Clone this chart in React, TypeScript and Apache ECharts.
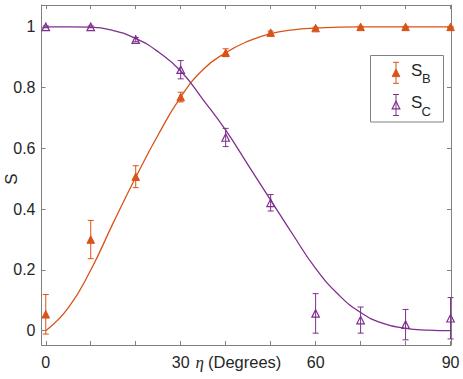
import React, { useEffect, useRef } from "react";
import * as echarts from "echarts";

const angles = [0, 10, 20, 30, 40, 50, 60, 70, 80, 90];
const sbValues = [0.054, 0.3, 0.507, 0.769, 0.915, 0.981, 0.996, 1.0, 1.0, 1.0];
const sbErrors = [0.065, 0.063, 0.036, 0.016, 0.013, 0.005, 0.003, 0.002, 0.002, 0.002];
const scValues = [1.0, 1.0, 0.958, 0.859, 0.636, 0.421, 0.057, 0.035, 0.02, 0.041];
const scErrors = [0.003, 0.003, 0.007, 0.03, 0.03, 0.027, 0.065, 0.043, 0.05, 0.068];

const fitAngles = [0, 5, 10, 15, 20, 25, 30, 35, 40, 45, 50, 55, 60, 65, 70, 75, 80, 85, 90];
const sbFit = [0, 0.075, 0.2, 0.355, 0.505, 0.645, 0.769, 0.86, 0.915, 0.953, 0.978, 0.99, 0.996, 0.999, 1, 1, 1, 1, 1];
const scFit = [1, 1, 0.999, 0.988, 0.962, 0.918, 0.855, 0.76, 0.66, 0.545, 0.43, 0.315, 0.205, 0.12, 0.06, 0.024, 0.008, 0.002, 0];

const xTicks = [0, 10, 20, 30, 40, 50, 60, 70, 80, 90];
const xTickLabels = [0, 30, 60, 90];
const yTicks = [0, 0.2, 0.4, 0.6, 0.8, 1];

const ORANGE = "#D95319";
const PURPLE = "#7E2F8E";
const AXIS = "#808080";
const TEXT = "#262626";
const FONT = "'Liberation Sans', Arial, Helvetica, sans-serif";

function errorBarSeries(values: number[], errors: number[], color: string) {
  return {
    type: "custom",
    clip: false,
    encode: { x: 0, y: [1, 2, 3] },
    data: angles.map((a, i) => [a, values[i], values[i] - errors[i], values[i] + errors[i]]),
    renderItem: (params: any, api: any) => {
      const x = api.value(0);
      const top = api.coord([x, api.value(3)]);
      const bot = api.coord([x, api.value(2)]);
      const w = 3;
      const style = { stroke: color, lineWidth: 1, fill: "none" };
      return {
        type: "group",
        children: [
          { type: "line", shape: { x1: top[0], y1: top[1], x2: bot[0], y2: bot[1] }, style },
          { type: "line", shape: { x1: top[0] - w, y1: top[1], x2: top[0] + w, y2: top[1] }, style },
          { type: "line", shape: { x1: bot[0] - w, y1: bot[1], x2: bot[0] + w, y2: bot[1] }, style },
        ],
      };
    },
    z: 3,
  };
}

function legendIcon(cx: number, cy: number, color: string, filled: boolean) {
  const style = { stroke: color, lineWidth: 1, fill: "none" };
  const h = 10.5;
  const w = 3;
  const t = 3.8;
  return [
    { type: "line", shape: { x1: cx, y1: cy - h, x2: cx, y2: cy + h }, style },
    { type: "line", shape: { x1: cx - w, y1: cy - h, x2: cx + w, y2: cy - h }, style },
    { type: "line", shape: { x1: cx - w, y1: cy + h, x2: cx + w, y2: cy + h }, style },
    {
      type: "polygon",
      shape: { points: [[cx, cy - t], [cx + t, cy + t], [cx - t, cy + t]] },
      style: filled ? { fill: color, stroke: color, lineWidth: 1 } : { fill: "none", stroke: color, lineWidth: 1.2 },
    },
  ];
}

export default function App() {
  const ref = useRef<HTMLDivElement>(null);
  useEffect(() => {
    if (!ref.current) return;
    const chart = echarts.init(ref.current, undefined, { renderer: "svg" });
    const axisCommon = {
      type: "value",
      axisLine: { show: true, onZero: false, lineStyle: { color: AXIS, width: 1 } },
      splitLine: { show: false },
    };
    chart.setOption({
      animation: false,
      backgroundColor: "#ffffff",
      grid: { left: 41.5, right: 12, top: 5, bottom: 34, containLabel: false },
      xAxis: [
        {
          ...axisCommon,
          position: "bottom",
          min: -0.95,
          max: 90.1,
          axisTick: { show: true, inside: true, length: 4, customValues: xTicks, lineStyle: { color: AXIS } },
          axisLabel: {
            show: true,
            customValues: xTickLabels,
            margin: 9,
            color: TEXT,
            fontSize: 16,
            fontFamily: FONT,
            formatter: (v: number) => String(v),
          },
        },
        {
          ...axisCommon,
          position: "top",
          min: -0.95,
          max: 90.1,
          axisTick: { show: true, inside: true, length: 4, customValues: xTicks, lineStyle: { color: AXIS } },
          axisLabel: { show: false },
        },
      ],
      yAxis: [
        {
          ...axisCommon,
          position: "left",
          min: -0.047,
          max: 1.072,
          axisTick: { show: true, inside: true, length: 4, customValues: yTicks, lineStyle: { color: AXIS } },
          axisLabel: {
            show: true,
            customValues: yTicks,
            margin: 6,
            color: TEXT,
            fontSize: 16,
            fontFamily: FONT,
            formatter: (v: number) => String(v),
          },
        },
        {
          ...axisCommon,
          position: "right",
          min: -0.047,
          max: 1.072,
          axisTick: { show: true, inside: true, length: 4, customValues: yTicks, lineStyle: { color: AXIS } },
          axisLabel: { show: false },
        },
      ],
      series: [
        {
          name: "SB fit",
          type: "line",
          data: fitAngles.map((a, i) => [a, sbFit[i]]),
          smooth: 0.5,
          showSymbol: false,
          lineStyle: { color: ORANGE, width: 1.3 },
          z: 2,
        },
        {
          name: "SC fit",
          type: "line",
          data: fitAngles.map((a, i) => [a, scFit[i]]),
          smooth: 0.5,
          showSymbol: false,
          lineStyle: { color: PURPLE, width: 1.3 },
          z: 2,
        },
        errorBarSeries(sbValues, sbErrors, ORANGE),
        errorBarSeries(scValues, scErrors, PURPLE),
        {
          name: "SB",
          type: "scatter",
          clip: false,
          symbol: "triangle",
          symbolSize: 7.5,
          data: angles.map((a, i) => [a, sbValues[i]]),
          itemStyle: { color: ORANGE, borderColor: ORANGE, borderWidth: 1, opacity: 1 },
          z: 4,
        },
        {
          name: "SC",
          type: "scatter",
          clip: false,
          symbol: "triangle",
          symbolSize: 7.5,
          data: angles.map((a, i) => [a, scValues[i]]),
          itemStyle: { color: "rgba(0,0,0,0)", borderColor: PURPLE, borderWidth: 1.2, opacity: 1 },
          z: 4,
        },
      ],
      graphic: [
        {
          type: "text",
          x: 11,
          y: 179,
          rotation: Math.PI / 2,
          style: {
            text: "S",
            fill: TEXT,
            font: `17px ${FONT}`,
            align: "center",
            verticalAlign: "middle",
          },
        },
        {
          type: "text",
          x: 195.5,
          y: 362,
          style: {
            text: "η",
            fill: TEXT,
            font: `italic 17px 'Liberation Serif', 'DejaVu Serif', serif`,
            align: "left",
            verticalAlign: "middle",
          },
        },
        {
          type: "text",
          x: 208,
          y: 362,
          style: {
            text: "(Degrees)",
            fill: TEXT,
            font: `16.5px ${FONT}`,
            align: "left",
            verticalAlign: "middle",
          },
        },
        {
          type: "rect",
          shape: { x: 370.5, y: 55.5, width: 73, height: 66.5 },
          style: { fill: "#ffffff", stroke: AXIS, lineWidth: 1 },
          z: 10,
        },
        ...legendIcon(396, 72.8, ORANGE, true).map((e) => ({ ...e, z: 11 })),
        ...legendIcon(396, 105, PURPLE, false).map((e) => ({ ...e, z: 11 })),
        {
          type: "text",
          x: 411,
          y: 70.5,
          z: 11,
          style: { text: "S", fill: TEXT, font: `17px ${FONT}`, align: "left", verticalAlign: "middle" },
        },
        {
          type: "text",
          x: 422,
          y: 78.5,
          z: 11,
          style: { text: "B", fill: TEXT, font: `13px ${FONT}`, align: "left", verticalAlign: "middle" },
        },
        {
          type: "text",
          x: 411,
          y: 102.8,
          z: 11,
          style: { text: "S", fill: TEXT, font: `17px ${FONT}`, align: "left", verticalAlign: "middle" },
        },
        {
          type: "text",
          x: 421.5,
          y: 111,
          z: 11,
          style: { text: "C", fill: TEXT, font: `13px ${FONT}`, align: "left", verticalAlign: "middle" },
        },
      ],
    });
    return () => chart.dispose();
  }, []);
  return (
    <div
      ref={ref}
      style={{ position: "absolute", left: 0, top: 0, width: 463, height: 379 }}
    />
  );
}
